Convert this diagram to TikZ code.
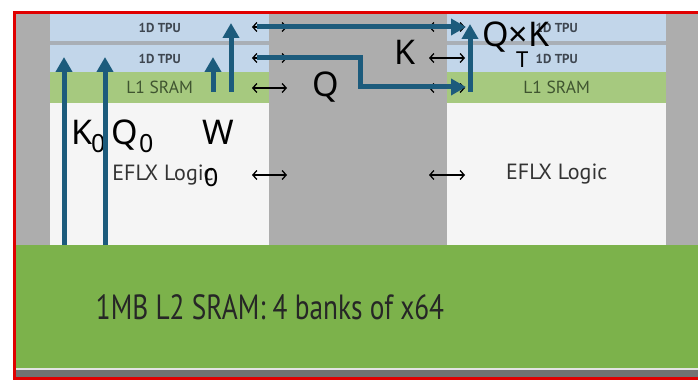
\documentclass[tikz,border=0pt]{standalone}
\usepackage{fontspec}
\setmainfont{PT Sans}
\newfontfamily\bigfont{Noto Sans}
\usetikzlibrary{arrows.meta}
\definecolor{bggray}{HTML}{ADADAD}
\definecolor{tpublue}{HTML}{C2D6EA}
\definecolor{gapgray}{HTML}{A9AFB6}
\definecolor{lonegreen}{HTML}{A6C97F}
\definecolor{eflxwhite}{HTML}{F5F5F5}
\definecolor{ltwogreen}{HTML}{7CB24B}
\definecolor{arrowblue}{HTML}{1C5B7C}
\definecolor{framered}{HTML}{E00000}
\definecolor{stripgray}{HTML}{727272}
\definecolor{tputext}{HTML}{3E4650}
\definecolor{sramtext}{HTML}{3F5430}
\definecolor{logictext}{HTML}{333333}
\begin{document}
\begin{tikzpicture}[x=1pt,y=-1pt,
  blk/.style={draw=none, inner sep=0pt, anchor=north west, minimum width=219pt},
  tpubox/.style={blk, fill=tpublue, minimum height=27pt, text=tputext, font=\fontsize{13}{13}\selectfont\bfseries},
  srambox/.style={blk, fill=lonegreen, minimum height=31pt, text=sramtext, font=\fontsize{17.5}{17.5}\selectfont},
  logicbox/.style={blk, fill=eflxwhite, minimum height=142pt, text=logictext, font=\fontsize{22}{22}\selectfont},
  biglbl/.style={inner sep=0pt, anchor=base west, font=\bigfont\fontsize{34}{34}\selectfont},
  sublbl/.style={inner sep=0pt, anchor=base west, font=\bigfont\fontsize{25}{25}\selectfont},
  bus/.style={arrowblue, line width=5pt, -{Triangle[length=15pt,width=16pt]}},
  link/.style={black, line width=1.3pt, {Straight Barb[length=4pt,width=9pt]}-{Straight Barb[length=4pt,width=9pt]}}
]
\useasboundingbox (0,0) rectangle (698,382);
\clip (0,0) rectangle (698,382);
\fill[white] (0,0) rectangle (698,382);
\fill[bggray] (14,12) rectangle (698,378);
% left column
\node[tpubox] (tpuLa) at (50,14) {1D TPU};
\fill[gapgray] (50,41) rectangle (269,45);
\node[tpubox] (tpuLb) at (50,45) {1D TPU};
\node[srambox] (sramL) at (50,72) {L1 SRAM};
\node[logicbox] (logicL) at (50,103) {};
\node[text=logictext, font=\fontsize{22}{22}\selectfont, inner sep=0pt] (logicLtxt) at (163,175) {EFLX Logic};
% right column
\node[tpubox] (tpuRa) at (447,14) {1D TPU};
\fill[gapgray] (447,41) rectangle (666,45);
\node[tpubox] (tpuRb) at (447,45) {1D TPU};
\node[srambox] (sramR) at (447,72) {L1 SRAM};
\node[logicbox] (logicR) at (447,103) {EFLX Logic};
% L2
\node[inner sep=0pt, anchor=north west, fill=ltwogreen, minimum width=682pt, minimum height=123pt] (ltwo) at (16,245) {};
\node[inner sep=0pt, font=\fontsize{35}{35}\selectfont, text=black!85] (ltwotxt) at (270,307) {\scalebox{0.78}[1]{1MB L2 SRAM: 4 banks of x64}};
\fill[stripgray] (16,368) rectangle (698,377);
\fill[white!80!stripgray] (16,368) rectangle (698,369.5);
% red frame
\draw[framered, line width=3pt] (710,12.5) -- (14.5,12.5) -- (14.5,378.5) -- (710,378.5);
% small links
\foreach \yy in {27,58,88,175} {
  \draw[link] (252,\yy) -- (287,\yy);
  \draw[link] (429,\yy) -- (465,\yy);
}
% labels
\node[biglbl] (kz) at (71,145) {K};
\node[sublbl] (kzs) at (91,153) {0};
\node[biglbl] (qz) at (111,145) {Q};
\node[sublbl] (qzs) at (139,153) {0};
\node[biglbl] (w) at (202,145) {W};
\node[sublbl] (ws) at (204,186) {0};
\node[biglbl] (q) at (312,97) {Q};
\node[biglbl] (k) at (394,65) {K};
\node[biglbl] (qk) at (482,47) {Q×K};
\node[sublbl, font=\bigfont\fontsize{22}{22}\selectfont] (t) at (516,68) {T};
% arrow endpoints
\coordinate (kzb) at (64,245);   \coordinate (kzt) at (64,57);
\coordinate (qzb) at (105,245);  \coordinate (qzt) at (105,57);
\coordinate (wb) at (213,92);    \coordinate (wt) at (213,57);
\coordinate (lb) at (231,92);    \coordinate (lt) at (231,23);
\coordinate (ha) at (257,27);    \coordinate (hat) at (466,27);
\coordinate (hb) at (257,58);    \coordinate (hbc) at (360,58);
\coordinate (hbd) at (360,87);   \coordinate (hbt) at (466,87);
\coordinate (rb) at (470,92);    \coordinate (rt) at (470,24);
\draw[bus] (kzb) -- (kzt);
\draw[bus] (qzb) -- (qzt);
\draw[bus] (wb) -- (wt);
\draw[bus] (lb) -- (lt);
\draw[bus] (ha) -- (hat);
\draw[bus] (hb) -- (hbc) -- (hbd) -- (hbt);
\draw[bus] (rb) -- (rt);
\end{tikzpicture}
\end{document}
